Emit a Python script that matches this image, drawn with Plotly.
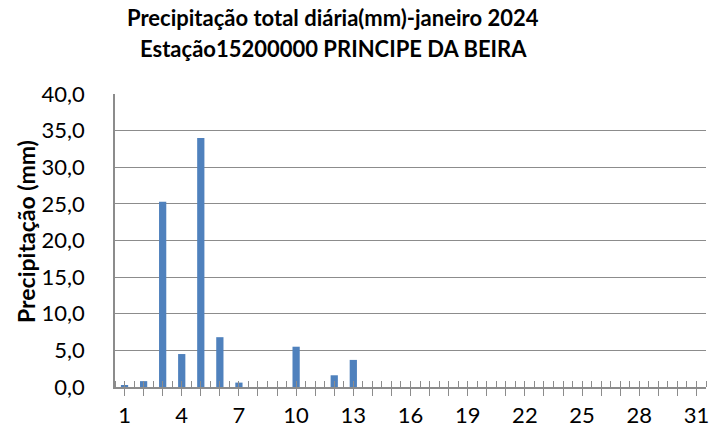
import plotly.graph_objects as go

days = list(range(1, 32))
precip = [0.2, 0.8, 25.3, 4.5, 34.0, 6.8, 0.6, 0, 0, 5.5, 0, 1.6, 3.7] + [0] * 18
x_tickvals = days
x_ticktext = [str(d) if (d - 1) % 3 == 0 else "" for d in days]
y_tickvals = [0, 5, 10, 15, 20, 25, 30, 35, 40]

title1 = "Precipitação total diária(mm)-janeiro 2024"
title2 = "Estação15200000 PRINCIPE DA BEIRA"
ytitle = "Precipitação (mm)"

W, H = 710, 432
L, R, T, B = 115, 4, 94, 45
pw, ph = W - L - R, H - T - B

def px_x(p):
    return (p - L) / pw

def px_y(p):
    return (H - B - p) / ph

FONT = "Lato"
GRID = "#8c8c8c"

fig = go.Figure()
fig.add_trace(go.Bar(x=days, y=precip, marker=dict(color="#4F81BD", line=dict(width=0)),
                     width=0.38))
fig.add_trace(go.Scatter(x=days, y=[None] * len(days), xaxis="x2", showlegend=False,
                         hoverinfo="skip"))

fig.update_layout(
    width=W, height=H,
    margin=dict(l=L, r=R, t=T, b=B, autoexpand=False),
    paper_bgcolor="white", plot_bgcolor="white",
    showlegend=False,
    separators=",.",
    font=dict(family=FONT, color="black"),
    xaxis=dict(
        range=[0.5, 31.5], tickmode="array", tickvals=x_tickvals, ticktext=x_ticktext,
        ticks="outside", ticklen=7, tickcolor=GRID, tickwidth=1,
        showline=True, linecolor=GRID, linewidth=1.5,
        showgrid=False, zeroline=False, automargin=False,
        tickfont=dict(size=22, family=FONT),
        ticklabelstandoff=1, ticklabeloverflow="allow",
        minor=dict(tickmode="linear", tick0=0.5, dtick=1, ticks="inside", ticklen=6,
                   tickcolor=GRID, tickwidth=1, showgrid=False),
    ),
    xaxis2=dict(
        overlaying="x", anchor="y", side="bottom", range=[0.5, 31.5],
        tickmode="array", tickvals=x_tickvals, ticks="inside", ticklen=6,
        tickcolor=GRID, tickwidth=1, showticklabels=False, showgrid=False,
        zeroline=False, showline=False,
    ),
    yaxis=dict(
        range=[0, 40], tickmode="array", tickvals=y_tickvals, tickformat=".1f",
        showgrid=True, gridcolor=GRID, gridwidth=1,
        showline=True, linecolor=GRID, linewidth=1.5,
        zeroline=False, ticks="", ticklabelstandoff=24, automargin=False,
        tickfont=dict(size=22, family=FONT),
    ),
    bargap=0.6,
)

fig.add_annotation(text="<b>" + title1 + "</b>", xref="paper", yref="paper",
                   x=px_x(333), y=px_y(18), xanchor="center", yanchor="middle",
                   showarrow=False, font=dict(size=22, family=FONT, color="black"))
fig.add_annotation(text="<b>" + title2 + "</b>", xref="paper", yref="paper",
                   x=px_x(333), y=px_y(48), xanchor="center", yanchor="middle",
                   showarrow=False, font=dict(size=22, family=FONT, color="black"))
fig.add_annotation(text="<b>" + ytitle + "</b>", xref="paper", yref="paper",
                   x=px_x(26), y=px_y(232), xanchor="center", yanchor="middle",
                   textangle=-90, showarrow=False,
                   font=dict(size=23, family=FONT, color="black"))

fig.write_html("out.html", config={"displayModeBar": False},
               post_script="document.body.style.margin='0px';")
